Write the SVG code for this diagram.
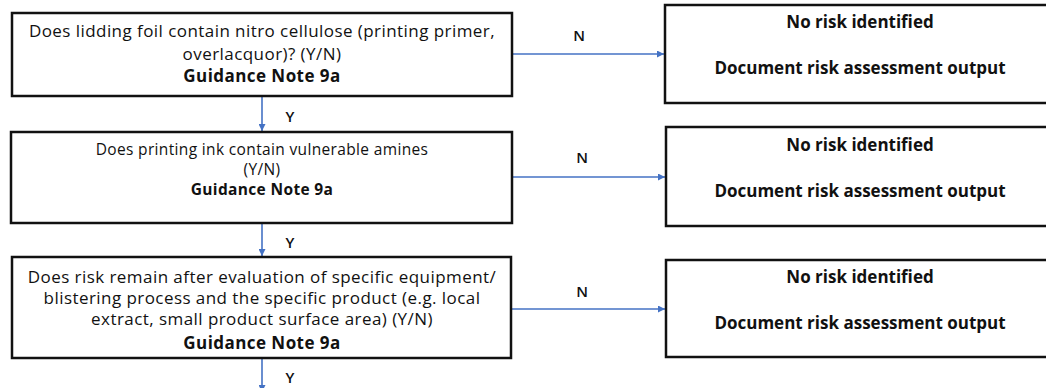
<svg xmlns="http://www.w3.org/2000/svg" width="1046" height="388" viewBox="0 0 1046 388">
<style>
.box{fill:#fff;stroke:#111;stroke-width:2.5}
.t{font-family:"Open Sans","Liberation Sans",Arial,sans-serif;font-size:17px;letter-spacing:0.44px;fill:#111;text-anchor:middle}
.s{font-size:15.5px;letter-spacing:0.35px}
.rb{font-size:17px;font-weight:bold;letter-spacing:0}
.b{font-weight:bold}
.lbl{font-family:"Open Sans","Liberation Sans",Arial,sans-serif;font-size:15px;font-weight:600;fill:#111;text-anchor:middle}
.c{stroke:#4472C4;stroke-width:1.6;fill:none;marker-end:url(#ah)}
</style>
<defs>
<marker id="ah" viewBox="0 0 10 10" refX="10" refY="5" markerWidth="7" markerHeight="7" orient="auto" markerUnits="userSpaceOnUse">
<path d="M0,0 L10,5 L0,10 z" fill="#4472C4"/>
</marker>
</defs>
<rect width="1046" height="388" fill="#fff"/>
<g id="connectors">
<line class="c" x1="262" y1="97" x2="262" y2="131"/>
<line class="c" x1="262" y1="224" x2="262" y2="256"/>
<line class="c" x1="262" y1="359" x2="262" y2="392"/>
<line class="c" x1="513" y1="54" x2="664" y2="54"/>
<line class="c" x1="513" y1="177" x2="665" y2="177"/>
<line class="c" x1="512" y1="309" x2="665" y2="309"/>
<text class="lbl" x="290" y="122">Y</text>
<text class="lbl" x="290" y="248">Y</text>
<text class="lbl" x="290" y="383">Y</text>
<text class="lbl" x="579" y="41">N</text>
<text class="lbl" x="582" y="163">N</text>
<text class="lbl" x="582" y="297">N</text>
</g>
<g id="q1">
<rect class="box" x="12" y="13" width="500" height="83"/>
<text class="t" x="262" y="37">Does lidding foil contain nitro cellulose (printing primer,</text>
<text class="t" x="262" y="60">overlacquor)? (Y/N)</text>
<text class="t b" x="262" y="82">Guidance Note 9a</text>
</g>
<g id="q2">
<rect class="box" x="11" y="132" width="501" height="91"/>
<text class="t s" x="262" y="155">Does printing ink contain vulnerable amines</text>
<text class="t s" x="262" y="175">(Y/N)</text>
<text class="t s b" x="262" y="195">Guidance Note 9a</text>
</g>
<g id="q3">
<rect class="box" x="12" y="257" width="499" height="101"/>
<text class="t" x="262" y="283">Does risk remain after evaluation of specific equipment/</text>
<text class="t" x="262" y="304">blistering process and the specific product (e.g. local</text>
<text class="t" x="262" y="325">extract, small product surface area) (Y/N)</text>
<text class="t b" x="262" y="349">Guidance Note 9a</text>
</g>
<g id="r1">
<rect class="box" x="665" y="5" width="400" height="98"/>
<text class="t rb" x="860" y="28">No risk identified</text>
<text class="t rb" x="860" y="74">Document risk assessment output</text>
</g>
<g id="r2">
<rect class="box" x="666" y="127" width="400" height="99"/>
<text class="t rb" x="860" y="151">No risk identified</text>
<text class="t rb" x="860" y="197">Document risk assessment output</text>
</g>
<g id="r3">
<rect class="box" x="666" y="260" width="400" height="97"/>
<text class="t rb" x="860" y="283">No risk identified</text>
<text class="t rb" x="860" y="329">Document risk assessment output</text>
</g>
</svg>
